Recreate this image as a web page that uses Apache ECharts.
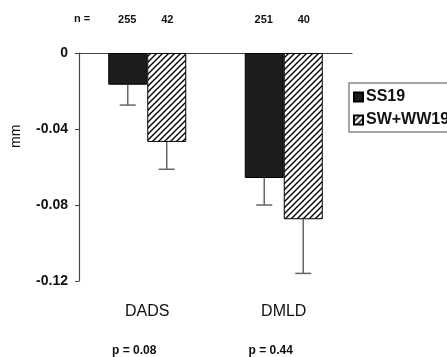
<!doctype html>
<html>
<head>
    <meta charset="utf-8">
    <title>mm</title>
    <script src="https://cdn.jsdelivr.net/npm/echarts@6/dist/echarts.min.js"></script>
</head>
<body style="margin:0;padding:0;background:#fff;">
    <div id="tb" style="width:447px;height:357px;"></div>
    <script>
        // 数据
        var categories = ['DADS', 'DMLD'];
        var ssValues = [-0.0167, -0.0658];     // SS19
        var ssErr = [0.0107, 0.0142];
        var swValues = [-0.0468, -0.0875];     // SW+WW19
        var swErr = [0.0144, 0.0285];
        var ssN = [255, 251];
        var swN = [42, 40];
        var pValues = ['0.08', '0.44'];
        var yTicks = [0, -0.04, -0.08, -0.12];

        // 斜线填充
        var hatch = document.createElement('canvas');
        hatch.width = 6;
        hatch.height = 6;
        var ctx = hatch.getContext('2d');
        ctx.fillStyle = '#fff';
        ctx.fillRect(0, 0, 6, 6);
        ctx.strokeStyle = '#000';
        ctx.lineWidth = 1.4;
        ctx.beginPath();
        ctx.moveTo(-1, 7); ctx.lineTo(7, -1);
        ctx.moveTo(-4, 4); ctx.lineTo(4, -4);
        ctx.moveTo(2, 10); ctx.lineTo(10, 2);
        ctx.stroke();

        var bw = 39; // 柱宽

        function errSeries(name, values, errs, dx) {
            return {
                name: name,
                type: 'custom',
                xAxisIndex: 0,
                z: 1,
                data: values.map(function (v, i) { return [i, v, v - errs[i]]; }),
                renderItem: function (params, api) {
                    var a = api.coord([api.value(0), api.value(1)]);
                    var b = api.coord([api.value(0), api.value(2)]);
                    var x = a[0] + dx;
                    var st = { stroke: '#666', lineWidth: 1.5 };
                    return {
                        type: 'group',
                        children: [
                            { type: 'line', shape: { x1: x, y1: a[1], x2: x, y2: b[1] }, style: st },
                            { type: 'line', shape: { x1: x - 8, y1: b[1], x2: x + 8, y2: b[1] }, style: st }
                        ]
                    };
                },
                tooltip: { show: false }
            };
        }

        var chart = echarts.init(document.getElementById('tb'));
        chart.setOption({
            animation: false,
            textStyle: { fontFamily: 'Arial, Liberation Sans, sans-serif' },
            grid: { left: 79, top: 53, width: 273, height: 228 },
            legend: {
                data: ['SS19', 'SW+WW19'],
                orient: 'vertical',
                left: 349,
                top: 83,
                padding: [6, 10, 4, 4],
                itemGap: 7,
                itemWidth: 9,
                itemHeight: 9,
                icon: 'rect',
                borderColor: '#888',
                borderWidth: 1.5,
                borderRadius: 0,
                textStyle: { fontSize: 16, fontWeight: 'bold', color: '#111', padding: [0, 0, 0, -2] }
            },
            xAxis: [{
                type: 'category',
                data: categories,
                position: 'top',
                axisLine: { onZero: false, lineStyle: { color: '#444', width: 1.2 } },
                axisTick: { inside: true, length: 7, lineStyle: { color: '#444' } },
                axisLabel: {
                    margin: 28,
                    formatter: function (v, i) {
                        return '{a|' + ssN[i] + '}{b|' + swN[i] + '}';
                    },
                    rich: {
                        a: { width: 40, align: 'center', fontSize: 11, fontWeight: 'bold', color: '#111' },
                        b: { width: 40, align: 'center', fontSize: 11, fontWeight: 'bold', color: '#111' }
                    }
                }
            }, {
                type: 'category',
                data: categories,
                position: 'bottom',
                axisLine: { show: false },
                axisTick: { show: false },
                axisLabel: { margin: 23, fontSize: 16, color: '#111' }
            }, {
                type: 'category',
                data: categories,
                position: 'bottom',
                axisLine: { show: false },
                axisTick: { show: false },
                axisLabel: {
                    margin: 64,
                    fontSize: 12,
                    fontWeight: 'bold',
                    color: '#111',
                    padding: [0, 26, 0, 0],
                    formatter: function (v, i) { return 'p = ' + pValues[i]; }
                }
            }],
            yAxis: {
                type: 'value',
                min: yTicks[3],
                max: yTicks[0],
                interval: 0.04,
                splitLine: { show: false },
                axisLine: { show: true, lineStyle: { color: '#444', width: 1.2 } },
                axisTick: { show: true, length: 4, lineStyle: { color: '#444' } },
                axisLabel: {
                    margin: 11,
                    fontSize: 14,
                    fontWeight: 'bold',
                    color: '#111',
                    formatter: function (v) { return v === 0 ? '0' : v.toFixed(2); }
                }
            },
            graphic: [{
                type: 'text',
                left: 74,
                top: 13,
                style: { text: 'n =', font: 'bold 11px Arial', fill: '#111' }
            }, {
                type: 'text',
                x: 9,
                y: 148,
                rotation: Math.PI / 2,
                style: { text: 'mm', font: '14px Arial', fill: '#111' }
            }],
            series: [{
                name: 'SS19',
                type: 'bar',
                barWidth: bw,
                barGap: '0%',
                z: 2,
                data: ssValues,
                itemStyle: { color: '#1c1c1c', borderColor: '#000', borderWidth: 1 }
            }, {
                name: 'SW+WW19',
                type: 'bar',
                barWidth: bw,
                barGap: '0%',
                z: 2,
                data: swValues,
                itemStyle: { color: { image: hatch, repeat: 'repeat' }, borderColor: '#000', borderWidth: 1 }
            },
            errSeries('SS19', ssValues, ssErr, -bw / 2),
            errSeries('SW+WW19', swValues, swErr, bw / 2)]
        });
    </script>
</body>
</html>
